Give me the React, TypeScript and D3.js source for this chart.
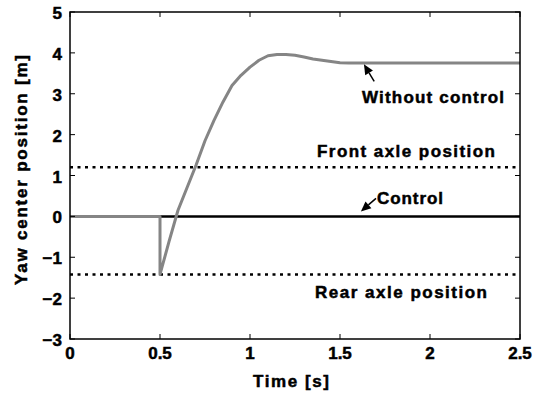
import React from "react";
import * as d3 from "d3";

const timeS = [0, 0.5, 0.5, 0.55, 0.6, 0.65, 0.7, 0.75, 0.8, 0.85, 0.9, 0.95, 1.0, 1.05, 1.1, 1.15, 1.2, 1.25, 1.3, 1.35, 1.4, 1.45, 1.5, 1.55, 2.5];
const withoutControl = [0, 0, -1.42, -0.62, 0.15, 0.7, 1.25, 1.85, 2.35, 2.8, 3.2, 3.45, 3.65, 3.82, 3.93, 3.96, 3.96, 3.94, 3.9, 3.85, 3.82, 3.79, 3.76, 3.75, 3.75];
const controlTime = [0, 2.5];
const controlValues = [0, 0];
const frontAxle = 1.2;
const rearAxle = -1.42;
const xTicks = [0, 0.5, 1, 1.5, 2, 2.5];
const xTickLabels = ["0", "0.5", "1", "1.5", "2", "2.5"];
const yTicks = [-3, -2, -1, 0, 1, 2, 3, 4, 5];
const yTickLabels = ["\u22123", "\u22122", "\u22121", "0", "1", "2", "3", "4", "5"];

const W = 542, H = 393;
const left = 70, right = 520, top = 12, bottom = 339;
const FONT = "'Liberation Sans', Arial, sans-serif";

export default function App() {
  const x = d3.scaleLinear().domain([0, 2.5]).range([left, right]);
  const y = d3.scaleLinear().domain([-3, 5]).range([bottom, top]);
  const line = d3.line<[number, number]>().x(d => x(d[0])).y(d => y(d[1]));
  const grayPts = timeS.map((t, i) => [t, withoutControl[i]] as [number, number]);
  const ctrlPts = controlTime.map((t, i) => [t, controlValues[i]] as [number, number]);
  const tl = 5;

  const arrow = (hx: number, hy: number, tx: number, ty: number, key: string) => {
    const ang = Math.atan2(hy - ty, hx - tx);
    const L = 10, Wd = 4.5;
    const bx = hx - L * Math.cos(ang), by = hy - L * Math.sin(ang);
    const px = -Math.sin(ang) * Wd, py = Math.cos(ang) * Wd;
    return (
      <g key={key}>
        <line x1={tx} y1={ty} x2={bx} y2={by} stroke="#000" strokeWidth={1.5} />
        <polygon points={`${hx},${hy} ${bx + px},${by + py} ${bx - px},${by - py}`} fill="#000" />
      </g>
    );
  };

  const textStyle = { stroke: "#000", strokeWidth: 0.5 } as React.CSSProperties;

  return (
    <svg width={W} height={H} style={{ position: "absolute", left: 0, top: 0, background: "#fff" }} fontFamily={FONT} fontWeight="bold">
      <rect x={0} y={0} width={W} height={H} fill="#fff" />
      <line x1={x(0)} x2={x(2.5)} y1={y(frontAxle)} y2={y(frontAxle)} stroke="#000" strokeWidth={2.5} strokeDasharray="3,4.5" />
      <line x1={x(0)} x2={x(2.5)} y1={y(rearAxle)} y2={y(rearAxle)} stroke="#000" strokeWidth={2.5} strokeDasharray="3,4.5" />
      <path d={line(ctrlPts) || ""} fill="none" stroke="#000" strokeWidth={2.5} />
      <path d={line(grayPts) || ""} fill="none" stroke="#858585" strokeWidth={3} strokeLinejoin="round" />
      <rect x={left} y={top} width={right - left} height={bottom - top} fill="none" stroke="#000" strokeWidth={1.5} />
      <g style={textStyle}>
        {xTicks.map((t, i) => (
          <g key={"xt" + i}>
            <line x1={x(t)} x2={x(t)} y1={bottom} y2={bottom - tl} stroke="#000" strokeWidth={1} />
            <line x1={x(t)} x2={x(t)} y1={top} y2={top + tl} stroke="#000" strokeWidth={1} />
            <text x={x(t)} y={359} textAnchor="middle" fontSize={17}>{xTickLabels[i]}</text>
          </g>
        ))}
        {yTicks.map((v, i) => (
          <g key={"yt" + i}>
            <line x1={left} x2={left + tl} y1={y(v)} y2={y(v)} stroke="#000" strokeWidth={1} />
            <line x1={right} x2={right - tl} y1={y(v)} y2={y(v)} stroke="#000" strokeWidth={1} />
            <text x={62} y={y(v) + 7} textAnchor="end" fontSize={17}>{yTickLabels[i]}</text>
          </g>
        ))}
        <text x={291} y={387} textAnchor="middle" fontSize={17} textLength={76} lengthAdjust="spacing">Time [s]</text>
        <text transform="translate(27,170) rotate(-90)" textAnchor="middle" fontSize={17} textLength={230} lengthAdjust="spacing">Yaw center position [m]</text>
        <text x={362} y={103} fontSize={17} textLength={142} lengthAdjust="spacing">Without control</text>
        <text x={317} y={157} fontSize={17} textLength={178} lengthAdjust="spacing">Front axle position</text>
        <text x={377} y={204} fontSize={17} textLength={66} lengthAdjust="spacing">Control</text>
        <text x={315} y={298} fontSize={17} textLength={172} lengthAdjust="spacing">Rear axle position</text>
      </g>
      {arrow(x(1.633), y(3.72), x(1.69), y(3.3), "a1")}
      {arrow(x(1.616), y(0.12), x(1.7), y(0.44), "a2")}
    </svg>
  );
}
